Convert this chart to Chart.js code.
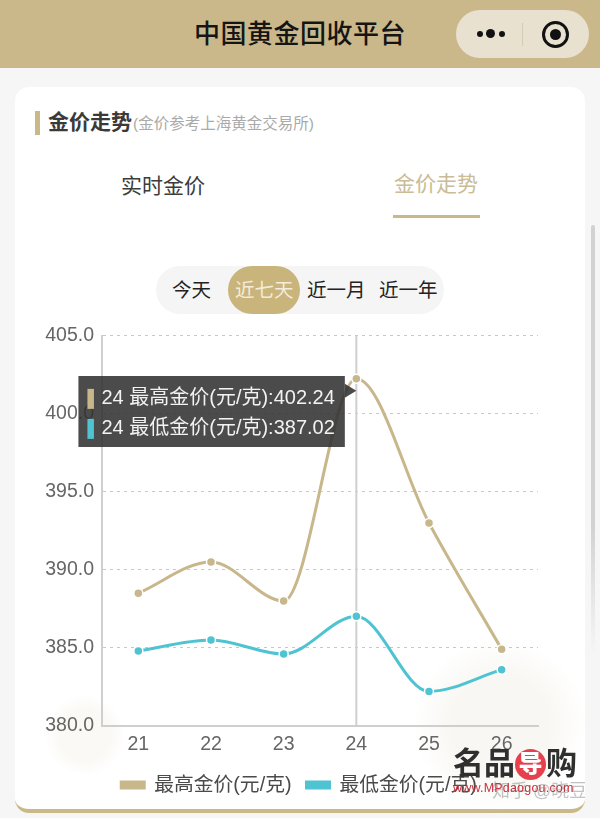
<!DOCTYPE html>
<html>
<head>
<meta charset="utf-8">
<script src="https://cdn.jsdelivr.net/npm/chart.js@4/dist/chart.umd.min.js"></script>
<style>
  * { box-sizing: border-box; margin: 0; padding: 0; }
  body {
    width: 600px; height: 818px; overflow: hidden; position: relative;
    background: #f6f6f6;
    font-family: "Liberation Sans", "Noto Sans CJK SC", sans-serif;
  }
  .abs { position: absolute; white-space: nowrap; }
  .topbar { left: 0; top: 0; width: 600px; height: 68px; background: #cbb88a; }
  .title { left: 0; top: 17px; width: 600px; text-align: center; font-size: 26px; line-height: 34px; font-weight: 500; color: #151515; letter-spacing: 0.5px; }
  .capsule { left: 456px; top: 10px; width: 133px; height: 48px; border-radius: 24px; background: #e9e1d0; }
  .capsule i { position: absolute; background: #111; border-radius: 50%; }
  .capsule .sep { left: 66px; top: 13px; width: 1px; height: 23px; background: #d5cbb5; border-radius: 0; }
  .ring { left: 86px; top: 11px; width: 27px; height: 27px; border: 3px solid #111; border-radius: 50%; }
  .card { left: 15px; top: 87px; width: 570px; height: 726px; border-radius: 14px; background: #fff; border-bottom: 4px solid #c9b988; overflow: hidden; }
  .blot-l { left: 45px; top: 695px; width: 80px; height: 80px; border-radius: 50%; background: radial-gradient(circle, #faf9f5 45%, rgba(255,255,255,0) 72%); }
  .blot-r { left: 415px; top: 640px; width: 170px; height: 170px; border-radius: 50%; background: radial-gradient(circle, #f8f7f3 40%, rgba(255,255,255,0) 72%); }
  .mark { left: 35px; top: 111px; width: 5px; height: 24px; background: #c9b988; }
  .head { left: 48px; top: 108px; font-size: 21px; line-height: 28px; font-weight: 700; color: #3a3a3a; }
  .sub { left: 133px; top: 114px; font-size: 15.5px; line-height: 20px; color: #aaa; }
  .tab1 { left: 121px; top: 172px; font-size: 21px; line-height: 28px; color: #3c3c3c; }
  .tab2 { left: 394px; top: 170px; font-size: 21px; line-height: 28px; color: #c9bc97; }
  .tabline { left: 393px; top: 215px; width: 87px; height: 3px; background: #c9b988; }
  .pill { left: 156px; top: 266px; width: 288px; height: 48px; border-radius: 24px; background: #f5f5f5; }
  .pill-on { left: 228px; top: 266px; width: 72px; height: 48px; border-radius: 24px; background: #c9b47c; }
  .range { top: 277px; font-size: 19.5px; line-height: 27px; color: #222; }
  .scroll { left: 591px; top: 225px; width: 4px; height: 430px; background: linear-gradient(#d2d2d2 70%, rgba(220,220,220,0)); border-radius: 2px; }
  #wrap { left: 30px; top: 316px; width: 556px; height: 486px; }
  .wm1 { left: 453px; top: 745px; font-size: 31px; line-height: 38px; font-weight: 700; color: #2f2f2f; letter-spacing: 0; }
  .wm1 b { display: inline-block; width: 31px; height: 31px; line-height: 30px; border-radius: 50%; background: #e5404c; color: #fff; font-size: 24px; text-align: center; vertical-align: 2px; }
  .wm2 { left: 453px; top: 781px; font-size: 12.5px; line-height: 14px; color: #c8303a; letter-spacing: 0.2px; }
  .wm3 { left: 492px; top: 780px; width: 93px; overflow: hidden; font-size: 18px; line-height: 22px; color: rgba(170,170,170,0.7); }
</style>
</head>
<body>
<div class="abs topbar"></div>
<div class="abs title">中国黄金回收平台</div>
<div class="abs capsule">
  <i style="left:21px;top:21px;width:6px;height:6px"></i>
  <i style="left:30px;top:19px;width:9px;height:9px"></i>
  <i style="left:43px;top:21px;width:6px;height:6px"></i>
  <i class="sep"></i>
  <i class="ring" style="background:none"></i>
  <i style="left:94px;top:19px;width:11px;height:11px"></i>
</div>
<div class="abs card"></div>
<div class="abs blot-l"></div>
<div class="abs blot-r"></div>
<div class="abs mark"></div>
<div class="abs head">金价走势</div>
<div class="abs sub">(金价参考上海黄金交易所)</div>
<div class="abs tab1">实时金价</div>
<div class="abs tab2">金价走势</div>
<div class="abs tabline"></div>
<div class="abs pill"></div>
<div class="abs pill-on"></div>
<div class="abs range" style="left:172px">今天</div>
<div class="abs range" style="left:235px;color:#f3ecd9">近七天</div>
<div class="abs range" style="left:307px">近一月</div>
<div class="abs range" style="left:379px">近一年</div>
<div class="abs scroll"></div>
<div class="abs" id="wrap"><canvas id="goldChart" width="556" height="486"></canvas></div>
<div class="abs wm3">知乎 @晓豆</div>
<div class="abs wm1">名品<b>导</b>购</div>
<div class="abs wm2">www.MPdaogou.com</div>

<script>
const days = ["21", "22", "23", "24", "25", "26"];
const highPrices = [388.5, 390.5, 388.0, 402.24, 393.0, 384.9];
const lowPrices = [384.8, 385.5, 384.6, 387.02, 382.2, 383.6];
const seriesNames = ["最高金价(元/克)", "最低金价(元/克)"];
const activeDay = 3;

const gold = "#c9b78c";
const teal = "#4fc3d2";
const tipBg = "rgba(50,50,50,0.88)";
const fontFamily = '"Liberation Sans", "Noto Sans CJK SC", sans-serif';

Chart.Tooltip.positioners.besidePoint = function () {
  const chart = this.chart;
  return {
    x: chart.scales.x.getPixelForValue(activeDay) - 11.5,
    y: chart.scales.y.getPixelForValue(400.15),
  };
};

const hoverLine = {
  id: "hoverLine",
  // legend is centred a bit right of the plot in the original
  afterLayout(chart) {
    const legend = chart.legend;
    legend.left += 15;
    legend.right += 15;
    legend.top += 3;
    legend.bottom += 3;
  },
  // vertical guide on the selected day, under the lines
  beforeDatasetsDraw(chart) {
    const { ctx, scales, chartArea } = chart;
    const x = scales.x.getPixelForValue(activeDay);
    ctx.save();
    ctx.strokeStyle = "#cfcfcf";
    ctx.lineWidth = 2;
    ctx.beginPath();
    ctx.moveTo(x, chartArea.top);
    ctx.lineTo(x, chartArea.bottom);
    ctx.stroke();
    ctx.restore();
  },
  // tooltip arrow sits near the top of the box, not the middle
  afterTooltipDraw(chart, args) {
    const { ctx, scales } = chart;
    const tip = args.tooltip;
    const right = tip.x + tip.width;
    const tipX = scales.x.getPixelForValue(activeDay);
    const tipY = scales.y.getPixelForValue(highPrices[activeDay]) + 12;
    ctx.save();
    ctx.fillStyle = tipBg;
    ctx.beginPath();
    ctx.moveTo(right, tipY - 7);
    ctx.lineTo(tipX, tipY);
    ctx.lineTo(right, tipY + 7);
    ctx.closePath();
    ctx.fill();
    ctx.restore();
  },
};

const lineStyle = (color) => ({
  borderColor: color,
  backgroundColor: color,
  pointBackgroundColor: color,
  pointBorderColor: "#fff",
  pointBorderWidth: 1.5,
  pointRadius: 4.5,
  pointHoverBackgroundColor: color,
  pointHoverBorderColor: "#fff",
  pointHoverBorderWidth: 1.5,
  pointHoverRadius: 4.5,
  borderWidth: 3,
  cubicInterpolationMode: "monotone",
});

const goldChart = new Chart(document.getElementById("goldChart"), {
  type: "line",
  data: {
    labels: days,
    datasets: [
      { label: seriesNames[0], data: highPrices, ...lineStyle(gold) },
      { label: seriesNames[1], data: lowPrices, ...lineStyle(teal) },
    ],
  },
  options: {
    responsive: false,
    animation: false,
    events: [],
    layout: { padding: { top: 12, right: 48, left: 0, bottom: 0 } },
    scales: {
      x: {
        offset: true,
        grid: { display: false, drawOnChartArea: false, drawTicks: true, tickLength: 6, tickColor: "#cfcfcf" },
        border: { color: "#cfcfcf", width: 2 },
        ticks: { color: "#666", font: { size: 19.5, family: fontFamily }, padding: 1, maxRotation: 0 },
      },
      y: {
        min: 380,
        max: 405,
        afterFit: (scale) => { scale.width = 72; },
        border: { color: "#cfcfcf", width: 2, dash: [3, 4] },
        grid: { color: "#c8c8c8", lineWidth: 1, drawTicks: false },
        ticks: {
          stepSize: 5,
          color: "#666",
          padding: 8,
          font: { size: 19.5, family: fontFamily },
          callback: (value) => value.toFixed(1),
        },
      },
    },
    plugins: {
      legend: {
        position: "bottom",
        labels: {
          boxWidth: 23,
          boxHeight: 6,
          color: "#4a4a4a",
          padding: 15,
          font: { size: 19.8, family: fontFamily },
        },
      },
      tooltip: {
        enabled: true,
        position: "besidePoint",
        xAlign: "right",
        yAlign: "center",
        caretSize: 0,
        caretPadding: 0,
        cornerRadius: 0,
        backgroundColor: tipBg,
        bodyColor: "#f2f2f2",
        bodyFont: { size: 20, family: fontFamily },
        bodySpacing: 6,
        padding: { left: 8, right: 10, top: 11, bottom: 6 },
        boxWidth: 8.5,
        boxHeight: 22,
        boxPadding: 4.5,
        multiKeyBackground: "rgba(0,0,0,0)",
        displayColors: true,
        callbacks: {
          title: () => "",
          label: (item) => item.label + " " + item.dataset.label + ":" + item.raw,
          labelColor: (item) => ({
            borderColor: "rgba(0,0,0,0)",
            backgroundColor: item.dataset.borderColor,
            borderWidth: 0,
          }),
        },
      },
    },
  },
  plugins: [hoverLine],
});

const activePoints = [
  { datasetIndex: 0, index: activeDay },
  { datasetIndex: 1, index: activeDay },
];
goldChart.setActiveElements(activePoints);
goldChart.tooltip.setActiveElements(activePoints, { x: 0, y: 0 });
goldChart.update();
</script>
</body>
</html>
